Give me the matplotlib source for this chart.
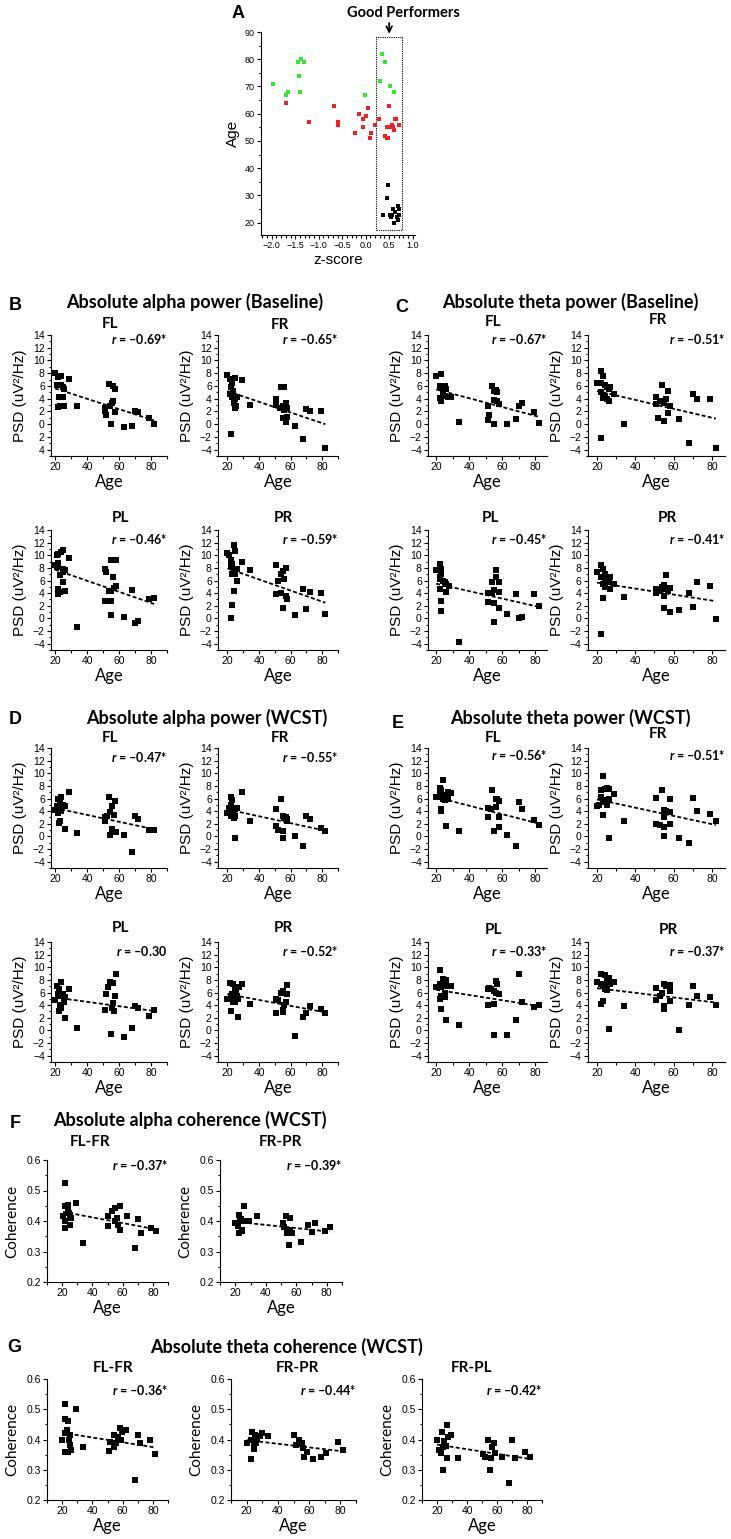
import numpy as np
import matplotlib.pyplot as plt
from matplotlib.ticker import MultipleLocator, FixedLocator
from matplotlib.patches import Rectangle

plt.rcParams['font.family'] = 'Liberation Sans'
plt.rcParams['mathtext.fontset'] = 'custom'
plt.rcParams['mathtext.it'] = 'Lato:italic:bold'
plt.rcParams['mathtext.rm'] = 'Lato:bold'

# ---------------- panel A: z-score vs age ----------------
a_green_z = [-1.98, -1.70, -1.65, -1.45, -1.38, -1.31, -1.43, -1.40, -0.02, 0.35, 0.41, 0.31, 0.51, 0.60]
a_green_age = [71, 67, 68, 79, 80, 79, 74, 68, 67, 82, 79, 72, 70, 68]
a_red_z = [-1.70, -1.20, -0.68, -0.58, -0.58, -0.22, -0.15, -0.06, 0.01, 0.05, -0.05, 0.12, 0.10, 0.19,
           0.28, 0.50, 0.45, 0.42, 0.45, 0.48, 0.55, 0.58, 0.62, 0.64, 0.60, 0.71, 0.50]
a_red_age = [64, 57, 63, 57, 56, 53, 60, 58, 59, 62, 55, 53, 51, 56, 58, 63, 55, 52, 51, 51, 56, 55, 58, 58, 54, 56, 55]
a_black_z = [0.48, 0.46, 0.37, 0.60, 0.59, 0.69, 0.70, 0.66, 0.56, 0.52, 0.62, 0.70, 0.54, 0.68]
a_black_age = [34, 29, 23, 20, 25, 26, 23, 22, 23, 23, 24, 25, 22, 21]
good_box = (0.23, 0.77, 17.4, 88.3)  # z range, age range

# ---------------- PSD panels (age, PSD) ----------------
b_fl_age = [20, 22, 23.5, 21.5, 24, 25, 25.6, 22.3, 24, 25, 21.7, 23, 25.6, 29, 34,
            53.5, 56, 57.7, 55.6, 56, 54.5, 51, 51, 52, 57.7, 54.7, 63, 68, 70, 72, 79, 82]
b_fl_psd = [8.0, 7.4, 7.6, 6.2, 6.2, 5.8, 5.5, 4.2, 4.2, 4.3, 2.7, 2.8, 2.9, 7.1, 2.9,
            6.3, 6.0, 5.5, 3.4, 3.6, 2.9, 2.5, 2.0, 1.5, 1.9, 0.1, -0.4, -0.3, 2.1, 1.9, 1.0, 0.1]
b_fl_yticklabels = ['4', '2', '0', '2', '4', '6', '8', '10', '12', '14']

b_fr_age = [20, 21.5, 24.6, 23, 22.5, 23.6, 21.9, 23.1, 24.6, 26, 24, 25.6, 24.6, 22, 29, 34,
            51, 51, 54, 56, 53, 55, 56, 57, 58, 55, 57, 58, 63, 68, 70, 72, 79, 82]
b_fr_psd = [7.7, 7.1, 7.3, 6.5, 5.8, 5.2, 4.7, 4.2, 4.0, 4.2, 3.4, 2.9, 2.6, -1.6, 7.0, 3.0,
            4.0, 3.0, 5.9, 5.8, 2.5, 2.8, 2.3, 3.4, 2.5, 1.0, 0.4, 1.2, -0.3, -2.4, 2.4, 2.0, 2.0, -3.8]

b_pl_age = [20, 21, 21, 22, 22, 22, 22, 23, 23, 24, 25, 25, 25, 25, 26, 26, 29, 34,
            51, 51, 52, 55, 57, 58, 56, 54, 55, 58, 57, 55, 55, 63, 68, 70, 72, 79, 82]
b_pl_psd = [8.4, 8.2, 10.0, 10.2, 8.8, 4.6, 3.8, 6.9, 4.2, 10.5, 10.9, 7.8, 7.3, 5.8, 7.6, 4.4, 9.5, -1.3,
            7.9, 2.8, 7.3, 9.2, 9.2, 9.2, 6.6, 4.3, 4.4, 5.2, 4.8, 2.8, 0.5, 0.3, 4.5, -0.7, -0.4, 3.0, 3.3]

b_pr_age = [20, 21, 24, 22, 25, 22, 23, 24, 26, 23, 25, 26, 24, 23, 22, 29, 34,
            51, 51, 52, 54, 55, 56, 57, 54, 55, 57, 58, 63, 68, 70, 72, 79, 82]
b_pr_psd = [10.3, 10.0, 11.6, 9.2, 10.6, 8.3, 8.6, 7.6, 7.9, 7.0, 7.0, 6.0, 4.3, 2.1, 0.0, 9.0, 7.7,
            8.4, 3.9, 5.9, 7.1, 7.5, 6.3, 8.0, 4.1, 1.6, 3.5, 3.0, 0.6, 4.6, 1.5, 4.2, 4.1, 0.7]

c_fl_age = [20, 23, 22, 23, 24, 25, 26, 24, 22, 23, 25, 27, 29, 34,
            51, 51, 52, 54, 55, 56, 55, 57, 58, 55, 57, 63, 68, 70, 72, 79, 82]
c_fl_psd = [7.6, 7.9, 6.0, 5.8, 5.4, 6.0, 5.5, 4.9, 4.1, 3.7, 4.5, 4.3, 4.3, 0.3,
            2.8, 0.6, 1.4, 6.0, 5.2, 5.4, 3.8, 3.6, 3.1, 0.0, 5.0, 0.0, 0.8, 2.9, 3.3, 1.9, 0.2]

c_fr_age = [20, 22, 23, 22, 24, 25, 26, 22, 24, 23, 25, 26, 29, 34, 22, 27,
            51, 51, 54, 57, 56, 55, 53, 58, 57, 52, 55, 63, 68, 70, 72, 79, 82]
c_fr_psd = [6.4, 8.3, 7.6, 6.4, 6.1, 5.8, 5.5, 5.0, 4.5, 4.1, 3.9, 3.6, 4.7, 0.1, -2.2, 5.8,
            4.2, 3.2, 6.1, 5.2, 4.0, 3.3, 3.7, 2.9, 1.8, 0.9, 0.5, 0.8, -3.0, 4.8, 4.0, 3.9, -3.7]

c_pl_age = [20, 22, 23, 23, 22, 24, 25, 26, 28, 22, 26, 23, 23, 22, 34,
            51, 51, 54, 54, 55, 56, 56, 58, 58, 55, 58, 55, 63, 68, 70, 72, 79, 82]
c_pl_psd = [7.6, 8.6, 7.8, 7.0, 6.2, 6.0, 5.8, 5.5, 5.2, 4.6, 4.2, 2.7, 1.1, 6.5, -3.8,
            4.1, 2.6, 4.0, 5.7, 4.5, 7.7, 6.6, 4.2, 5.8, 2.5, 1.6, -0.5, 0.7, 3.9, 0.1, 0.2, 3.8, 1.9]

c_pr_age = [20, 22, 23, 24, 22, 24, 25, 26, 27, 23, 24, 27, 23, 29, 22, 34,
            51, 51, 53, 54, 55, 56, 56, 55, 55, 58, 57, 58, 63, 68, 70, 72, 79, 82]
c_pr_psd = [7.4, 8.4, 7.8, 7.0, 6.5, 6.2, 6.0, 5.8, 6.5, 5.4, 5.0, 4.7, 3.3, 5.5, -2.5, 3.4,
            4.6, 4.0, 4.3, 5.0, 5.3, 4.6, 6.9, 3.6, 1.7, 4.8, 4.3, 1.0, 1.4, 4.0, 1.8, 5.8, 5.1, -0.1]

d_fl_age = [20, 21.5, 22, 23, 24, 25, 22, 24, 26, 23, 22.6, 26, 29, 34,
            53.5, 51, 51, 52.6, 54.5, 55.5, 57.7, 56.6, 55.6, 54.5, 58, 63, 68, 70, 72, 79, 82]
d_fl_psd = [4.2, 4.8, 5.9, 5.5, 6.3, 5.0, 3.7, 4.0, 4.8, 2.5, 2.1, 1.1, 7.0, 0.6,
            6.3, 3.0, 2.5, 3.3, 3.9, 4.8, 5.6, 3.4, 1.2, 0.2, 0.7, 0.3, -2.4, 3.2, 2.7, 1.0, 1.0]

d_fr_age = [20, 21, 22, 23, 22, 24, 25, 26, 23, 22, 24, 25, 25, 29, 34,
            51, 51, 52, 54, 55, 56, 57, 58, 55, 55, 58, 63, 68, 70, 72, 79, 82]
d_fr_psd = [3.7, 4.5, 6.3, 5.7, 5.0, 4.0, 4.4, 4.5, 3.8, 3.2, 2.9, 3.3, -0.3, 7.0, 2.5,
            4.4, 1.7, 1.0, 6.0, 3.3, 2.9, 3.0, 2.5, 0.9, -0.2, 2.8, 0.1, -1.5, 3.2, 2.7, 1.4, 0.8]

d_pl_age = [20, 21.5, 22.7, 22, 23.8, 24, 25, 23, 22.5, 24, 25.6, 26, 26, 29, 34,
            51, 52, 53, 54.5, 56.5, 58, 57.7, 56, 55.6, 56.6, 55, 63, 68, 70, 72, 79, 82]
d_pl_psd = [4.8, 7.0, 6.5, 5.8, 7.6, 5.4, 5.8, 4.0, 3.1, 3.6, 4.5, 5.3, 1.9, 6.5, 0.4,
            3.2, 5.8, 6.9, 7.7, 7.5, 9.0, 5.5, 4.4, 3.5, 3.0, -0.6, -1.0, 0.4, 3.9, 3.6, 2.3, 3.2]

d_pr_age = [20, 21.5, 23.6, 24.6, 22, 23, 25.6, 26, 23.6, 25, 26.7, 22.5, 26.7, 29.5, 34.5, 27,
            51, 51, 52, 54, 55, 55, 55, 56, 58, 58, 57, 63, 68, 70, 72, 79, 82]
d_pr_psd = [5.0, 7.5, 7.4, 6.6, 5.5, 5.8, 6.4, 5.5, 4.5, 4.5, 5.0, 3.0, 2.1, 7.3, 4.2, 6.9,
            5.0, 2.7, 4.8, 6.0, 6.3, 3.2, 2.9, 4.0, 7.2, 5.7, 4.5, -0.9, 2.2, 2.8, 3.8, 3.4, 2.8]

e_fl_age = [20, 22, 23, 24, 22, 23, 24, 25, 26, 27, 29, 23, 23, 26, 34, 25, 27,
            51, 51, 53, 54, 55, 56, 56, 57, 58, 58, 58, 63, 68, 70, 72, 79, 82]
e_fl_psd = [6.2, 7.6, 7.4, 9.0, 6.7, 6.2, 6.0, 5.8, 6.5, 7.0, 6.8, 4.3, 4.0, 1.7, 0.8, 6.2, 6.0,
            4.5, 3.0, 4.3, 7.4, 0.9, 4.7, 5.9, 6.0, 5.6, 3.1, 1.5, 0.3, -1.5, 5.5, 4.4, 2.6, 1.8]

e_fr_age = [20, 21, 22, 23, 22, 23, 24, 25, 24, 25, 26, 23, 29, 26, 34, 26,
            51, 51, 53, 54, 55, 55, 55, 55, 55, 56, 58, 58, 58, 63, 68, 70, 72, 79, 82]
e_fr_psd = [4.8, 5.0, 7.4, 9.6, 6.3, 5.5, 7.5, 7.6, 5.7, 5.0, 6.0, 3.4, 6.7, -0.3, 2.5, 7.5,
            6.1, 1.9, 1.8, 7.3, 4.2, 3.5, 3.0, 1.5, 0.1, 4.0, 3.8, 6.0, 1.9, -0.3, -1.0, 6.1, 4.1, 3.5, 2.4]

e_pl_age = [20, 22, 22, 23, 24, 25, 24, 26, 25, 23, 25, 22, 23, 29, 26, 34, 26,
            51, 51, 53, 55, 55, 56, 57, 58, 56, 55, 63, 68, 70, 72, 79, 82, 52]
e_pl_psd = [6.9, 9.6, 7.4, 6.8, 8.2, 8.0, 7.5, 7.1, 6.0, 5.5, 5.3, 4.9, 3.4, 7.1, 1.6, 0.9, 8.0,
            6.6, 4.0, 6.5, 6.2, 4.2, 7.8, 7.3, 5.8, 6.0, -0.7, -0.7, 1.6, 9.0, 4.5, 3.7, 4.0, 6.7]

e_pr_age = [20, 22, 24, 22, 23, 24, 25, 25, 26, 29, 22, 23, 27, 26, 34, 25,
            51, 51, 53, 54, 55, 56, 55, 55, 58, 58, 58, 63, 68, 70, 72, 79, 82]
e_pr_psd = [7.6, 9.0, 8.7, 7.4, 7.0, 6.6, 6.4, 7.9, 8.3, 7.6, 4.2, 4.7, 7.3, 0.2, 3.8, 6.8,
            6.7, 4.8, 5.5, 6.0, 7.4, 7.1, 3.9, 3.4, 4.7, 6.2, 7.2, 0.0, 4.0, 7.0, 5.4, 5.3, 4.1]

# ---------------- coherence panels (age, coherence) ----------------
f_flfr_age = [20.6, 22, 23.8, 22, 24.7, 25.9, 25.3, 22, 23.8, 29, 34, 22, 25,
              50.3, 50.6, 53, 55, 56, 58, 57, 58, 55, 63, 70, 72, 68, 79, 82]
f_flfr_coh = [0.415, 0.448, 0.454, 0.377, 0.426, 0.41, 0.388, 0.40, 0.437, 0.46, 0.327, 0.525, 0.42,
              0.415, 0.383, 0.432, 0.443, 0.41, 0.448, 0.388, 0.372, 0.40, 0.415, 0.408, 0.36, 0.31, 0.377, 0.368]

f_frpr_age = [20, 21.6, 22.5, 23.7, 22.2, 24.7, 25.6, 26, 23, 29, 34, 24.7,
              51, 52, 53, 54, 55, 56, 56, 57, 63, 68, 70, 72, 79, 82]
f_frpr_coh = [0.393, 0.382, 0.421, 0.407, 0.36, 0.372, 0.40, 0.448, 0.404, 0.40, 0.418, 0.366,
              0.393, 0.38, 0.415, 0.36, 0.32, 0.41, 0.372, 0.36, 0.33, 0.388, 0.364, 0.393, 0.366, 0.38]

g_flfr_age = [20, 21.6, 22.2, 23.7, 23, 22.2, 24.7, 25.3, 23.7, 25.9, 22.2, 29, 34, 25.3,
              51, 51.6, 54, 55.6, 57, 58, 54, 59.4, 58.7, 62.5, 68, 70, 71.6, 78.4, 81.6]
g_flfr_coh = [0.40, 0.517, 0.467, 0.462, 0.431, 0.42, 0.398, 0.382, 0.36, 0.365, 0.36, 0.50, 0.374, 0.415,
              0.363, 0.393, 0.415, 0.387, 0.407, 0.437, 0.374, 0.426, 0.398, 0.431, 0.266, 0.415, 0.387, 0.40, 0.352]

g_frpr_age = [20, 22.5, 23, 23.7, 24.6, 25.5, 26.2, 26.8, 28.6, 29.8, 24.6, 33.8,
              50.2, 51.4, 53.8, 55.4, 56.3, 56.9, 58.5, 53.8, 62.5, 67.7, 70.8, 78.5, 81.5]
g_frpr_coh = [0.387, 0.335, 0.398, 0.426, 0.368, 0.415, 0.387, 0.404, 0.412, 0.42, 0.377, 0.412,
              0.415, 0.382, 0.40, 0.39, 0.371, 0.341, 0.36, 0.394, 0.334, 0.343, 0.354, 0.393, 0.365]

g_frpl_age = [20, 23, 23.7, 21.5, 24, 24.6, 26.2, 27, 26.8, 29.2, 26.8, 33.8, 22.5,
              50.8, 52.3, 53.8, 55.4, 56, 56.9, 57.8, 58.5, 63, 67.7, 70.2, 71.7, 78.5, 82]
g_frpl_coh = [0.40, 0.426, 0.376, 0.365, 0.30, 0.396, 0.379, 0.407, 0.338, 0.415, 0.448, 0.34, 0.355,
              0.352, 0.343, 0.398, 0.299, 0.338, 0.376, 0.39, 0.357, 0.341, 0.257, 0.40, 0.34, 0.36, 0.343]

W, H = 731, 1539
LATO = 'Lato'
fig = plt.figure(figsize=(W / 100, H / 100), dpi=100)


def add_ax(l, t, r, b):
    return fig.add_axes([l / W, 1 - b / H, (r - l) / W, (b - t) / H])


def ftext(x, y, s, size, weight='normal', family=LATO):
    fig.text(x / W, 1 - y / H, s, fontsize=size, fontweight=weight, family=family,
             ha='center', va='center')


def open_axes(ax, fs=7.5):
    ax.spines['top'].set_visible(False)
    ax.spines['right'].set_visible(False)
    ax.spines['left'].set_linewidth(0.8)
    ax.spines['bottom'].set_linewidth(0.8)
    ax.tick_params(which='both', direction='out', labelsize=fs, width=0.8, pad=1.5)
    ax.tick_params(which='major', length=3)
    ax.tick_params(which='minor', length=1.8)


def corr_panel(box, xlim, ages, vals, r_text, kind='psd', yticklabels=None, ry=0.925):
    ax = add_ax(*box)
    ages = np.asarray(ages, float)
    vals = np.asarray(vals, float)
    ax.plot(ages, vals, 's', color='black', ms=4.5 if kind == 'psd' else 4.0, mew=0)
    slope, icpt = np.polyfit(ages, vals, 1)
    xs = np.array([ages.min(), ages.max()])
    ax.plot(xs, icpt + slope * xs, color='black', lw=1.3, dashes=(2.2, 1.3))
    ax.set_xlim(*xlim)
    ax.xaxis.set_major_locator(FixedLocator([20, 40, 60, 80]))
    ax.xaxis.set_minor_locator(MultipleLocator(10))
    if kind == 'psd':
        ax.set_ylim(-5, 14)
        ax.yaxis.set_major_locator(FixedLocator(np.arange(-4, 15, 2)))
        ax.yaxis.set_minor_locator(MultipleLocator(1))
        ax.set_ylabel('PSD (uV²/Hz)', fontsize=11, labelpad=4)
    else:
        ax.set_ylim(0.2, 0.6)
        ax.yaxis.set_major_locator(FixedLocator([0.2, 0.3, 0.4, 0.5, 0.6]))
        ax.yaxis.set_minor_locator(MultipleLocator(0.05))
        ax.set_ylabel('Coherence', fontsize=11, family=LATO, labelpad=5)
    if yticklabels is not None:
        ax.set_yticklabels(yticklabels)
    ax.set_xlabel('Age', fontsize=12, family=LATO, labelpad=1)
    open_axes(ax)
    ax.text(1.0, ry, r_text, transform=ax.transAxes, ha='right', va='center',
            fontsize=9, fontweight='bold', family=LATO)
    return ax


# ---------------- panel A ----------------
axA = add_ax(261, 32, 415, 235)
axA.plot(a_green_z, a_green_age, 's', color='#33e833', ms=3.3, mew=0)
axA.plot(a_red_z, a_red_age, 's', color='#ee2222', ms=3.3, mew=0)
axA.plot(a_black_z, a_black_age, 's', color='black', ms=3.3, mew=0)
axA.set_xlim(-2.23, 1.05)
axA.set_ylim(15.5, 90)
axA.xaxis.set_major_locator(FixedLocator([-2.0, -1.5, -1.0, -0.5, 0.0, 0.5, 1.0]))
axA.xaxis.set_minor_locator(MultipleLocator(0.1))
axA.yaxis.set_major_locator(FixedLocator(np.arange(20, 91, 10)))
axA.yaxis.set_minor_locator(MultipleLocator(5))
axA.xaxis.set_major_formatter(plt.FuncFormatter(lambda v, p: f'{v:.1f}'.replace('-', '\u2212')))
open_axes(axA, fs=6.5)
axA.set_xlabel('z-score', fontsize=11, labelpad=2)
axA.set_ylabel('Age', fontsize=11, labelpad=3)
z0, z1, y0, y1 = good_box
axA.add_patch(Rectangle((z0, y0), z1 - z0, y1 - y0, fill=False, ec='black', lw=0.8,
                        ls=(0, (1, 1)), clip_on=False))
axA.annotate('', xy=((z0 + z1) / 2, y1), xytext=((z0 + z1) / 2, y1 + 6),
             arrowprops=dict(arrowstyle='->', color='black', lw=1.3), annotation_clip=False)
ftext(238, 14, 'A', 13, 'bold', 'Liberation Sans')
ftext(403, 13, 'Good Performers', 10.5, 'bold')

# ---------------- PSD grid ----------------
c1, c2, c3, c4 = (51, 167), (218, 338), (428, 547), (588, 725)
x1, x2, x3, x4 = (17.5, 90), (14, 90), (15, 87), (15.3, 86.8)
r1, r2, r3, r4 = (335, 456), (530, 650), (748, 868), (942, 1062)


def box(c, r):
    return (c[0], r[0], c[1], r[1])


corr_panel(box(c1, r1), x1, b_fl_age, b_fl_psd, '$r$ = \u20130.69*', yticklabels=b_fl_yticklabels, ry=0.97)
corr_panel(box(c2, r1), x2, b_fr_age, b_fr_psd, '$r$ = \u20130.65*', ry=0.97)
corr_panel(box(c1, r2), x1, b_pl_age, b_pl_psd, '$r$ = \u20130.46*')
corr_panel(box(c2, r2), x2, b_pr_age, b_pr_psd, '$r$ = \u20130.59*')
corr_panel(box(c3, r1), x3, c_fl_age, c_fl_psd, '$r$ = \u20130.67*', ry=0.97)
corr_panel(box(c4, r1), x4, c_fr_age, c_fr_psd, '$r$ = \u20130.51*', ry=0.97)
corr_panel(box(c3, r2), x3, c_pl_age, c_pl_psd, '$r$ = \u20130.45*')
corr_panel(box(c4, r2), x4, c_pr_age, c_pr_psd, '$r$ = \u20130.41*')
corr_panel(box(c1, r3), x1, d_fl_age, d_fl_psd, '$r$ = \u20130.47*')
corr_panel(box(c2, r3), x2, d_fr_age, d_fr_psd, '$r$ = \u20130.55*')
corr_panel(box(c1, r4), x1, d_pl_age, d_pl_psd, '$r$ = \u20130.30')
corr_panel(box(c2, r4), x2, d_pr_age, d_pr_psd, '$r$ = \u20130.52*')
corr_panel(box(c3, r3), x3, e_fl_age, e_fl_psd, '$r$ = \u20130.56*', ry=0.94)
corr_panel(box(c4, r3), x4, e_fr_age, e_fr_psd, '$r$ = \u20130.51*', ry=0.94)
corr_panel(box(c3, r4), x3, e_pl_age, e_pl_psd, '$r$ = \u20130.33*')
corr_panel(box(c4, r4), x4, e_pr_age, e_pr_psd, '$r$ = \u20130.37*')

# ---------------- coherence ----------------
rf, rg = (1160, 1282), (1379, 1500)
xc = (10, 90)
corr_panel(box((47, 168), rf), xc, f_flfr_age, f_flfr_coh, '$r$ = \u20130.37*', kind='coh', ry=0.96)
corr_panel(box((220, 342), rf), xc, f_frpr_age, f_frpr_coh, '$r$ = \u20130.39*', kind='coh', ry=0.96)
corr_panel(box((47, 168), rg), xc, g_flfr_age, g_flfr_coh, '$r$ = \u20130.36*', kind='coh', ry=0.91)
corr_panel(box((231, 356), rg), xc, g_frpr_age, g_frpr_coh, '$r$ = \u20130.44*', kind='coh', ry=0.91)
corr_panel(box((422, 542), rg), xc, g_frpl_age, g_frpl_coh, '$r$ = \u20130.42*', kind='coh', ry=0.91)

# ---------------- headings ----------------
for x, y, s in [(15, 305, 'B'), (402, 307, 'C'), (15, 720, 'D'), (398, 723, 'E'),
                (15, 1123, 'F'), (14, 1347, 'G')]:
    ftext(x, y, s, 13, 'bold', 'Liberation Sans')

for x, y, s in [(195, 302, 'Absolute alpha power (Baseline)'), (570, 302, 'Absolute theta power (Baseline)'),
                (207, 718, 'Absolute alpha power (WCST)'), (570, 718, 'Absolute theta power (WCST)'),
                (190, 1120, 'Absolute alpha coherence (WCST)'), (286, 1347, 'Absolute theta coherence (WCST)')]:
    ftext(x, y, s, 13, 'bold')

for x, y, s in [(110, 324, 'FL'), (280, 325, 'FR'), (120, 518, 'PL'), (283, 518, 'PR'),
                (493, 322, 'FL'), (658, 320, 'FR'), (490, 518, 'PL'), (667, 518, 'PR'),
                (110, 738, 'FL'), (280, 738, 'FR'), (120, 928, 'PL'), (283, 928, 'PR'),
                (493, 738, 'FL'), (658, 734, 'FR'), (493, 930, 'PL'), (668, 930, 'PR'),
                (90, 1142, 'FL-FR'), (280, 1142, 'FR-PR'),
                (113, 1368, 'FL-FR'), (297, 1368, 'FR-PR'), (472, 1368, 'FR-PL')]:
    ftext(x, y, s, 11, 'bold')

fig.savefig('out.png', dpi=100, facecolor='white')
